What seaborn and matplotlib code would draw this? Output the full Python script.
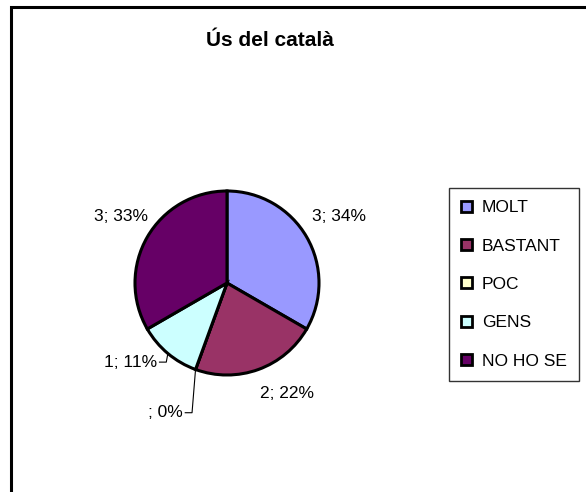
import matplotlib
matplotlib.use("Agg")
import matplotlib.pyplot as plt
from matplotlib.patches import Rectangle, Patch
import numpy as np
import seaborn as sns

# Dades del gràfic
categories = ["MOLT", "BASTANT", "POC", "GENS", "NO HO SE"]
values = [3, 2, 0, 1, 3]
percent_labels = ["34%", "22%", "0%", "11%", "33%"]  # tal com surten a l'Excel
colors = ["#9999FF", "#993366", "#FFFFCC", "#CCFFFF", "#660066"]
title = "Ús del català"

W, H = 586, 492
sns.set_theme(style="white")
plt.rcParams["font.family"] = ["Liberation Sans", "DejaVu Sans"]
plt.rcParams["text.color"] = "black"

fig = plt.figure(figsize=(W / 100, H / 100), dpi=100)
fig.patch.set_facecolor("white")

# pie: centre (227, 283) px, radi 92 px
cx, cy, r = 227, 283, 92
ax = fig.add_axes([(cx - r) / W, (H - cy - r) / H, 2 * r / W, 2 * r / H])
wedges, _ = ax.pie(values, colors=sns.color_palette(colors), startangle=90,
                   counterclock=False, radius=1,
                   wedgeprops=dict(edgecolor="black", linewidth=2.2))
ax.set_xlim(-1, 1)
ax.set_ylim(-1, 1)
ax.set_aspect("equal")
ax.axis("off")

# etiquetes "valor; %" (posicions en unitats del radi)
label_pos = [(0.92, 0.72, "left"), (0.36, -1.20, "left"), (-0.48, -1.41, "right"),
             (-0.76, -0.86, "right"), (-0.86, 0.72, "right")]
for i, (v, p) in enumerate(zip(values, percent_labels)):
    txt = f"{v}; {p}" if v else f"; {p}"
    x, y, ha = label_pos[i]
    ax.text(x, y, txt, ha=ha, va="center", fontsize=12.5, color="black", clip_on=False)

# línies guia per a les porcions petites
for i in (2, 3):
    w = wedges[i]
    ang = np.deg2rad((w.theta1 + w.theta2) / 2)
    ex, ey = np.cos(ang), np.sin(ang)
    x, y, _ = label_pos[i]
    ax.plot([x + 0.02, x + 0.1, ex], [y, y, ey], color="black", lw=0.8,
            clip_on=False, solid_capstyle="butt")

fig.text(270 / W, 1 - 40 / H, title, ha="center", va="center",
         fontsize=15, fontweight="bold", color="black")

handles = [Patch(facecolor=c, edgecolor="black", linewidth=2) for c in colors]
leg = fig.legend(handles, categories, loc="upper left",
                 bbox_to_anchor=(449 / W, 1 - 188 / H), borderaxespad=0,
                 fontsize=12.5, frameon=True, fancybox=False, edgecolor="black",
                 handlelength=0.6, handleheight=0.6, handletextpad=0.6,
                 labelspacing=1.35, borderpad=0.7)
leg.get_frame().set_linewidth(1.0)
for t in leg.get_texts():
    t.set_color("black")

# marc exterior del gràfic (retallat a dreta i a baix)
fig.patches.append(Rectangle((10.5 / W, -0.1), 1.5, (H - 6.5) / H + 0.1,
                             transform=fig.transFigure, fill=False,
                             edgecolor="black", linewidth=2.2))

fig.savefig("out.png", dpi=100, facecolor="white")
